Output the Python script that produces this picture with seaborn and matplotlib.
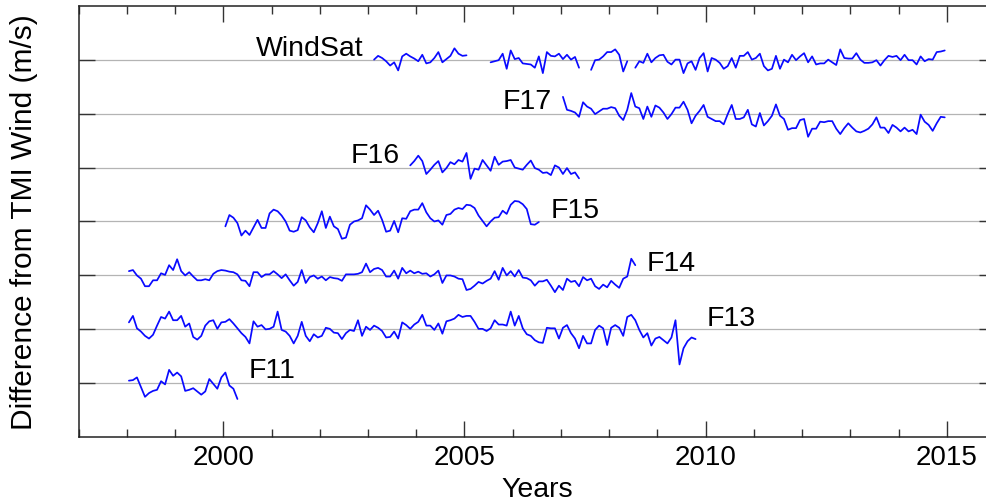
import numpy as np
import pandas as pd
import seaborn as sns
from matplotlib import pyplot as plt
from matplotlib.ticker import MultipleLocator, FixedLocator

# monthly differences from TMI wind (m/s)
f11 = [0.05, 0.06, 0.11, -0.07, -0.25, -0.18, -0.14, -0.12, 0.04, -0.02, 0.25, 0.14,
       0.20, 0.13, -0.14, -0.12, -0.09, -0.15, -0.21, -0.15, 0.08, -0.01, -0.10, 0.11,
       0.20, -0.04, -0.10, -0.29]

f13 = [0.13, 0.25, 0.02, -0.04, -0.12, -0.17, -0.10, 0.07, 0.23, 0.20, 0.33, 0.17,
       0.17, 0.25, 0.05, 0.11, -0.14, -0.19, -0.12, 0.07, 0.15, 0.17, 0.01, 0.13,
       0.14, 0.19, 0.11, 0.02, -0.07, -0.14, -0.26, 0.15, 0.05, 0.08, 0.00, 0.01,
       0.05, 0.33, -0.01, -0.04, -0.12, -0.26, -0.12, 0.14, -0.12, -0.22, -0.09, -0.15,
       -0.12, 0.03, 0.01, -0.06, -0.07, -0.18, -0.07, -0.01, -0.03, 0.17, -0.12, 0.05,
       -0.01, 0.07, 0.03, -0.03, -0.15, -0.14, -0.04, -0.17, 0.13, 0.08, 0.01, 0.09,
       0.14, 0.27, 0.07, 0.07, -0.01, 0.11, -0.08, 0.15, 0.17, 0.20, 0.27, 0.23,
       0.25, 0.25, 0.14, 0.01, 0.01, -0.03, 0.02, 0.17, 0.09, 0.09, 0.07, 0.33,
       0.07, 0.25, 0.02, -0.09, -0.12, -0.20, -0.24, -0.25, 0.03, 0.02, 0.02, -0.17,
       0.03, 0.08, -0.07, -0.17, -0.35, -0.12, -0.26, -0.26, -0.01, 0.07, 0.02, -0.29,
       0.03, 0.08, 0.03, -0.12, 0.23, 0.27, 0.17, -0.01, -0.15, -0.07, -0.30, -0.17,
       -0.14, -0.20, -0.26, -0.15, 0.17, -0.65, -0.35, -0.22, -0.15, -0.18]

f14 = [0.08, 0.10, 0.00, -0.06, -0.20, -0.20, -0.09, -0.09, 0.04, 0.01, 0.19, 0.10,
       0.30, 0.08, 0.00, 0.06, -0.02, -0.09, -0.09, -0.07, -0.09, 0.03, 0.08, 0.10,
       0.09, 0.07, 0.06, 0.02, -0.09, -0.10, -0.20, 0.06, 0.06, -0.03, 0.02, 0.02,
       0.08, 0.02, -0.05, 0.02, -0.09, -0.19, -0.12, 0.10, -0.14, -0.03, 0.00, -0.06,
       -0.02, -0.09, -0.03, -0.05, -0.06, -0.10, 0.02, 0.02, 0.02, 0.03, 0.06, 0.22,
       0.06, 0.12, 0.14, 0.10, -0.02, -0.02, 0.09, -0.06, 0.14, 0.04, 0.09, 0.04,
       0.07, 0.03, 0.04, -0.02, 0.02, 0.09, -0.14, 0.00, 0.00, -0.02, -0.06, -0.07,
       -0.27, -0.25, -0.19, -0.12, -0.15, -0.10, -0.06, 0.08, -0.08, 0.14, 0.00, 0.08,
       -0.02, 0.10, -0.04, -0.05, -0.09, -0.19, -0.11, -0.11, -0.08, -0.19, -0.31, -0.19,
       -0.27, -0.06, -0.12, -0.10, -0.20, -0.03, -0.09, -0.06, -0.20, -0.25, -0.17, -0.22,
       -0.10, -0.17, -0.23, -0.06, -0.02, 0.31, 0.19]

f15 = [-0.09, 0.12, 0.07, -0.03, -0.26, -0.17, -0.25, -0.11, 0.03, -0.12, -0.12, 0.15,
       0.22, 0.19, 0.11, 0.00, -0.17, -0.19, -0.16, 0.08, 0.02, -0.11, -0.20, -0.03,
       0.19, -0.12, 0.09, -0.09, -0.14, -0.32, -0.30, -0.06, 0.00, 0.02, 0.06, 0.30,
       0.22, 0.12, 0.20, 0.03, -0.19, -0.17, 0.01, -0.20, 0.06, 0.05, 0.19, 0.22,
       0.22, 0.34, 0.17, 0.06, 0.00, 0.02, -0.06, 0.12, 0.14, 0.22, 0.25, 0.23,
       0.31, 0.30, 0.25, 0.11, 0.01, -0.09, 0.00, 0.07, 0.08, 0.20, 0.14, 0.31,
       0.38, 0.37, 0.32, 0.23, -0.05, -0.06, -0.01]

f16 = [0.04, 0.12, 0.22, 0.12, -0.12, -0.04, 0.05, 0.12, -0.09, -0.01, 0.10, 0.06,
       0.14, 0.11, 0.27, -0.21, -0.02, -0.04, 0.14, 0.04, -0.06, 0.20, 0.05, 0.11,
       0.12, 0.14, 0.00, -0.02, -0.04, 0.05, 0.13, -0.01, -0.04, -0.10, -0.09, -0.14,
       0.04, 0.00, -0.12, -0.01, -0.12, -0.09, -0.20]

f17 = [0.31, 0.07, 0.05, 0.02, -0.06, 0.21, 0.13, 0.09, -0.01, 0.04, 0.09, 0.09,
       0.12, 0.10, -0.04, -0.12, 0.07, 0.38, 0.13, 0.10, -0.10, 0.13, -0.06, 0.15,
       0.11, 0.02, -0.10, -0.01, 0.11, 0.11, 0.22, 0.07, -0.18, -0.04, 0.05, 0.16,
       -0.06, -0.10, -0.14, -0.14, -0.20, -0.01, 0.16, -0.10, -0.10, -0.07, 0.07, -0.20,
       -0.24, 0.01, -0.22, -0.14, -0.04, 0.17, -0.04, -0.10, -0.30, -0.27, -0.27, -0.12,
       -0.10, -0.43, -0.28, -0.28, -0.15, -0.16, -0.14, -0.14, -0.28, -0.38, -0.27, -0.18,
       -0.26, -0.33, -0.35, -0.32, -0.28, -0.20, -0.07, -0.26, -0.26, -0.36, -0.21, -0.26,
       -0.33, -0.26, -0.33, -0.30, -0.38, -0.02, -0.15, -0.21, -0.32, -0.18, -0.06, -0.07]

# WindSat has gaps, so it is kept in pieces
windsat_a = [0.00, 0.07, 0.03, -0.03, -0.11, -0.05, -0.20, 0.06, 0.11, 0.06, 0.02, -0.03,
             0.09, -0.07, -0.05, 0.03, 0.14, -0.05, 0.01, 0.07, 0.21, 0.11, 0.07, 0.08]
windsat_b = [-0.05, -0.03, -0.01, 0.11, -0.17, 0.17, 0.01, 0.03, -0.07, -0.08, -0.09, -0.15,
             0.06, -0.25, 0.14, 0.07, 0.06, 0.11, 0.01, 0.09, 0.00, 0.05, -0.15]
windsat_c = [-0.19, -0.01, 0.00, 0.06, 0.14, 0.14, 0.19, 0.09, -0.22, -0.03]
windsat_d = [-0.15, -0.03, -0.06, 0.11, -0.05, 0.03, 0.08, 0.09, -0.04, -0.09,
             0.00, 0.00, -0.25, -0.07, -0.03, -0.19, 0.03, 0.12, -0.22, 0.03,
             0.00, -0.06, -0.17, -0.12, 0.03, -0.15, 0.07, 0.07, 0.14, 0.00,
             0.03, 0.11, -0.12, -0.20, -0.17, 0.07, -0.17, 0.00, -0.05, 0.09,
             -0.01, 0.06, 0.12, -0.05, 0.06, -0.09, -0.07, -0.07, 0.00, -0.05,
             -0.10, 0.19, 0.03, 0.02, 0.02, 0.12, 0.00, -0.06, -0.06, -0.05,
             -0.01, -0.11, -0.01, 0.07, 0.05, 0.07, -0.01, 0.09, -0.01, -0.01,
             -0.09, 0.06, -0.03, 0.01, 0.00, 0.14, 0.15, 0.17]

# (name, values, first year, first month, stacking level)
segments = [
    ("F11", f11, 1998, 1, 0),
    ("F13", f13, 1998, 1, 1),
    ("F14", f14, 1998, 1, 2),
    ("F15", f15, 2000, 1, 3),
    ("F16", f16, 2003, 11, 4),
    ("F17", f17, 2007, 1, 5),
    ("WindSat", windsat_a, 2003, 2, 6),
    ("WindSat", windsat_b, 2005, 7, 6),
    ("WindSat", windsat_c, 2007, 8, 6),
    ("WindSat", windsat_d, 2008, 7, 6),
]

rows = []
for k, (name, vals, y0, m0, level) in enumerate(segments):
    start = y0 + (m0 - 1) / 12
    for i, v in enumerate(vals):
        rows.append({"year": start + (i + 0.5) / 12, "diff": v + level,
                     "series": name, "segment": k})
df = pd.DataFrame(rows)

# label text, x, y, alignment
labels = [
    ("WindSat", 2002.90, 6.22, "right"),
    ("F17", 2006.81, 5.23, "right"),
    ("F16", 2003.65, 4.24, "right"),
    ("F15", 2006.78, 3.21, "left"),
    ("F14", 2008.77, 2.23, "left"),
    ("F13", 2010.03, 1.21, "left"),
    ("F11", 2000.52, 0.24, "left"),
]

sns.set_style("ticks")
plt.rcParams["font.family"] = ["Liberation Sans", "DejaVu Sans"]

fig = plt.figure(figsize=(9.86, 5.02), dpi=100)
ax = fig.add_axes([0.0798, 0.1269, 0.9293, 0.8598])

sns.lineplot(
    data=df, x="year", y="diff", units="segment", estimator=None,
    color="#0a0aff", linewidth=1.25, legend=False, ax=ax,
)

for text, x, y, ha in labels:
    ax.text(x, y, text, ha=ha, va="center", fontsize=20.5, color="black")

ax.set_xlim(1997, 2016)
ax.set_ylim(-1, 7)
ax.xaxis.set_major_locator(FixedLocator([2000, 2005, 2010, 2015]))
ax.xaxis.set_minor_locator(MultipleLocator(1))
ax.set_yticks(range(0, 7))
ax.set_yticklabels([])
ax.grid(True, axis="y", color="#b4b4b4", linewidth=0.9)
ax.tick_params(axis="both", which="major", direction="in", length=11.5, width=1.0,
               color="#333333", labelcolor="black", top=True, right=True,
               labelsize=20, pad=5)
ax.tick_params(axis="x", which="minor", direction="in", length=5.8, width=1.0,
               color="#333333", top=True)
for s in ax.spines.values():
    s.set_linewidth(1.1)
    s.set_color("#222222")

ax.set_xlabel("Years", fontsize=20.5, labelpad=4, color="black")
ax.set_ylabel("Difference from TMI Wind (m/s)", fontsize=21.5, labelpad=24, color="black")

fig.savefig("out.png", dpi=100)
